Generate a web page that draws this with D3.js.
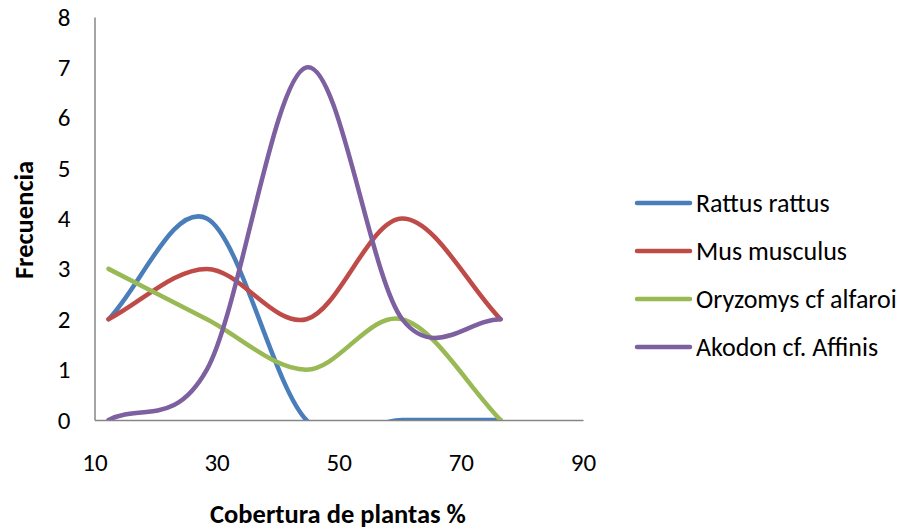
<!DOCTYPE html>
<html>
<head>
<meta charset="utf-8">
<script src="https://cdn.jsdelivr.net/npm/d3@7"></script>
<style>
  body { margin: 0; background: #fff; }
  text { font-family: Carlito, Lato, "Open Sans", sans-serif; fill: #000; }
</style>
</head>
<body>
<div id="chart"></div>
<script>
const coverage = [12.3, 28.4, 44.7, 60.4, 76.5];
const rattus = [2, 4, 0, 0, 0];
const mus = [2, 3, 2, 4, 2];
const oryzomys = [3, 2, 1, 2, 0];
const akodon = [0, 1, 7, 2, 2];
const seriesNames = ['Rattus rattus', 'Mus musculus', 'Oryzomys cf alfaroi', 'Akodon cf. Affinis'];
const xTicks = [10, 30, 50, 70, 90];
const yTicks = [0, 1, 2, 3, 4, 5, 6, 7, 8];

const colors = ['#4a7ebb', '#be4b48', '#98b954', '#7d60a0'];
const width = 906, height = 529;

// smoothing like the spreadsheet: catmull-rom, ends mirrored
function curveSmooth(context) {
  let pts;
  return {
    areaStart: function () {},
    areaEnd: function () {},
    lineStart: function () { pts = []; },
    point: function (px, py) { pts.push([+px, +py]); },
    lineEnd: function () {
      const n = pts.length;
      if (!n) return;
      const p = function (i) {
        if (i < 0) return [2 * pts[0][0] - pts[1][0], 2 * pts[0][1] - pts[1][1]];
        if (i >= n) return [2 * pts[n - 1][0] - pts[n - 2][0], 2 * pts[n - 1][1] - pts[n - 2][1]];
        return pts[i];
      };
      context.moveTo(pts[0][0], pts[0][1]);
      for (let i = 0; i < n - 1; i++) {
        const a = p(i - 1), b = p(i), c = p(i + 1), d = p(i + 2);
        context.bezierCurveTo(
          b[0] + (c[0] - a[0]) / 6, b[1] + (c[1] - a[1]) / 6,
          c[0] - (d[0] - b[0]) / 6, c[1] - (d[1] - b[1]) / 6,
          c[0], c[1]);
      }
    }
  };
}

const svg = d3.select('#chart').append('svg')
  .attr('width', width)
  .attr('height', height);

const x = d3.scaleLinear().domain([10, 90]).range([94.5, 583]);
const y = d3.scaleLinear().domain([0, 8]).range([420, 17]);

svg.append('defs').append('clipPath')
  .attr('id', 'plot')
  .append('rect')
  .attr('x', x(10)).attr('y', 0)
  .attr('width', x(90) - x(10))
  .attr('height', y(0));

// axes, no tick marks
const xAxis = svg.append('g')
  .attr('transform', 'translate(0,' + y(0) + ')')
  .call(d3.axisBottom(x).tickValues(xTicks).tickSize(0).tickPadding(43));
const yAxis = svg.append('g')
  .attr('transform', 'translate(' + x(10) + ',0)')
  .call(d3.axisLeft(y).tickValues(yTicks).tickSize(0).tickPadding(24));

[xAxis, yAxis].forEach(function (a) {
  a.select('.domain').attr('stroke', '#868686').attr('stroke-width', 1.5);
  a.selectAll('text').style('font-size', '25px');
});
xAxis.selectAll('text').attr('dy', '0.32em');

const line = d3.line()
  .x(function (d, i) { return x(coverage[i]); })
  .y(function (d) { return y(d); })
  .curve(curveSmooth);

const series = [rattus, mus, oryzomys, akodon];
const plot = svg.append('g').attr('clip-path', 'url(#plot)');
series.forEach(function (s, i) {
  plot.append('path')
    .datum(s)
    .attr('d', line)
    .attr('fill', 'none')
    .attr('stroke', colors[i])
    .attr('stroke-width', 4.5)
    .attr('stroke-linecap', 'round');
});

// legend
const legend = svg.append('g').attr('transform', 'translate(637,203)');
seriesNames.forEach(function (name, i) {
  const row = legend.append('g').attr('transform', 'translate(0,' + (i * 48) + ')');
  row.append('line')
    .attr('x1', 0).attr('x2', 53)
    .attr('stroke', colors[i])
    .attr('stroke-width', 4.5)
    .attr('stroke-linecap', 'round');
  row.append('text')
    .attr('x', 59)
    .attr('dy', '0.35em')
    .style('font-size', '26px')
    .text(name);
});

svg.append('text')
  .attr('x', 338).attr('y', 523)
  .attr('text-anchor', 'middle')
  .style('font-size', '26.5px')
  .style('font-weight', 'bold')
  .text('Cobertura de plantas %');

svg.append('text')
  .attr('transform', 'translate(33,220) rotate(-90)')
  .attr('text-anchor', 'middle')
  .style('font-size', '26.5px')
  .style('font-weight', 'bold')
  .text('Frecuencia');
</script>
</body>
</html>
